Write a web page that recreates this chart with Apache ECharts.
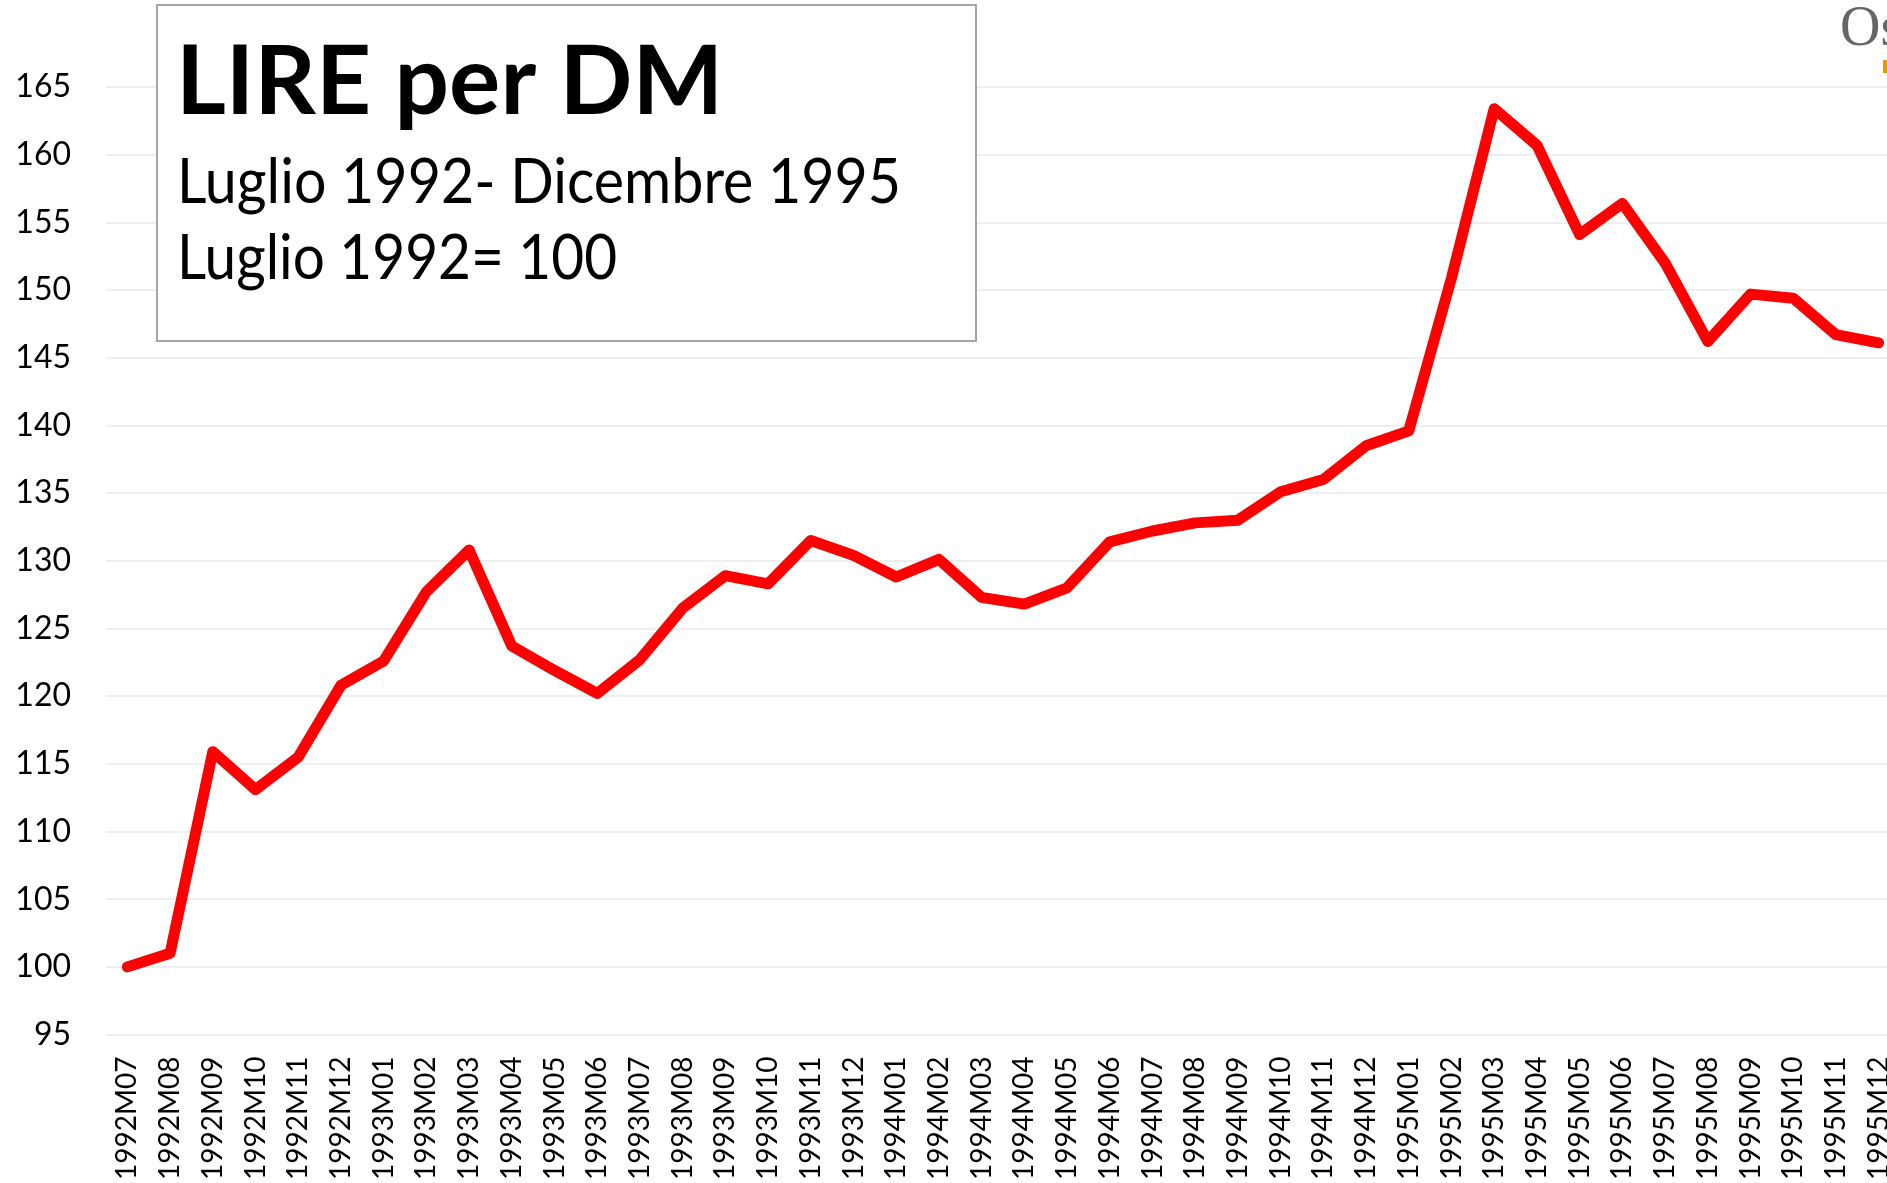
<!DOCTYPE html>
<html>
<head>
<meta charset="utf-8">
<title>LIRE per DM</title>
<script src="https://cdn.jsdelivr.net/npm/echarts@6/dist/echarts.min.js"></script>
<style>
  html, body { margin: 0; padding: 0; background: #fff; overflow: hidden; }
  /* il grafico originale e' tagliato a destra: il canvas sborda dalla finestra */
  #chart { width: 1900px; height: 1183px; }
</style>
</head>
<body>
<div id="chart"></div>
<script>
// Mesi da luglio 1992 a dicembre 1995
const months = [
  '1992M07', '1992M08', '1992M09', '1992M10', '1992M11', '1992M12',
  '1993M01', '1993M02', '1993M03', '1993M04', '1993M05', '1993M06',
  '1993M07', '1993M08', '1993M09', '1993M10', '1993M11', '1993M12',
  '1994M01', '1994M02', '1994M03', '1994M04', '1994M05', '1994M06',
  '1994M07', '1994M08', '1994M09', '1994M10', '1994M11', '1994M12',
  '1995M01', '1995M02', '1995M03', '1995M04', '1995M05', '1995M06',
  '1995M07', '1995M08', '1995M09', '1995M10', '1995M11', '1995M12'
];
// Lire per marco tedesco, luglio 1992 = 100
const lirePerDm = [
  100.0, 101.0, 115.9, 113.1, 115.5, 120.8,
  122.6, 127.7, 130.8, 123.7, 121.9, 120.2,
  122.7, 126.5, 128.9, 128.3, 131.5, 130.4,
  128.8, 130.1, 127.3, 126.8, 128.0, 131.4,
  132.2, 132.8, 133.0, 135.1, 136.0, 138.5,
  139.6, 150.9, 163.4, 160.7, 154.1, 156.4,
  152.0, 146.2, 149.7, 149.4, 146.7, 146.1
];
const yMin = 95, yMax = 165, yStep = 5;

const titleText = 'LIRE per DM';
const subLines = ['Luglio 1992- Dicembre 1995', 'Luglio 1992= 100'];

const chart = echarts.init(document.getElementById('chart'));
chart.setOption({
  animation: false,
  backgroundColor: '#fff',
  grid: { left: 106, top: 87, right: 0, height: 950, containLabel: false },
  xAxis: {
    type: 'category', data: months, boundaryGap: true,
    axisLine: { show: false }, axisTick: { show: false },
    axisLabel: { rotate: 90, interval: 0, margin: 22, fontFamily: 'Lato', fontSize: 28, color: '#000' }
  },
  yAxis: {
    type: 'value', min: yMin, max: yMax, interval: yStep,
    axisLine: { show: false }, axisTick: { show: false },
    axisLabel: { margin: 35, fontFamily: 'Lato', fontSize: 32, color: '#000' },
    splitLine: { show: true, lineStyle: { color: '#efefef', width: 2 } }
  },
  series: [{
    type: 'line', data: lirePerDm, symbol: 'none', clip: false,
    lineStyle: { color: '#ff0000', width: 11, cap: 'round', join: 'round' }
  }],
  graphic: [
    { type: 'rect', z: 100, shape: { x: 157, y: 5, width: 819, height: 336 },
      style: { fill: '#fff', stroke: '#a6a6a6', lineWidth: 2 } },
    { type: 'text', z: 101, x: 176, y: 83,
      style: { text: titleText, font: 'bold 96px Lato', fill: '#000', verticalAlign: 'middle' } },
    { type: 'text', z: 101, x: 177, y: 183, scaleX: 0.925,
      style: { text: subLines[0], font: '62px Lato', fill: '#000', verticalAlign: 'middle' } },
    { type: 'text', z: 101, x: 177, y: 259, scaleX: 0.915,
      style: { text: subLines[1], font: '62px Lato', fill: '#000', verticalAlign: 'middle' } },
    // logo tagliato in alto a destra
    { type: 'text', z: 101, x: 1840, y: 30,
      style: { text: 'Oss', font: '56px "Liberation Serif"', fill: '#666', verticalAlign: 'middle' } },
    { type: 'rect', z: 101, shape: { x: 1883, y: 60, width: 10, height: 13 }, style: { fill: '#e69a00' } }
  ]
});
</script>
</body>
</html>
